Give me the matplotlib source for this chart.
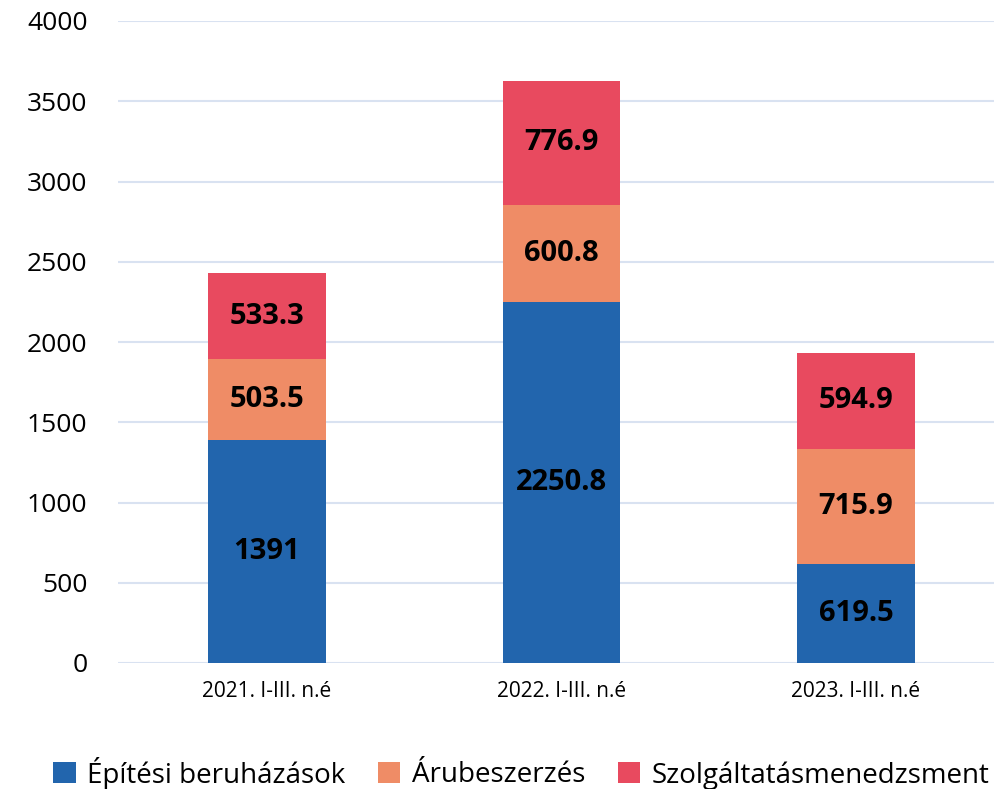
import matplotlib
matplotlib.use("Agg")
import matplotlib.pyplot as plt
import numpy as np

categories = ["2021. I-III. n.é", "2022. I-III. n.é", "2023. I-III. n.é"]
series_names = ["Építési beruházások", "Árubeszerzés", "Szolgáltatásmenedzsment"]
epitesi = [1391, 2250.8, 619.5]
arubeszerzes = [503.5, 600.8, 715.9]
szolgaltatas = [533.3, 776.9, 594.9]
value_labels = [["1391", "2250.8", "619.5"], ["503.5", "600.8", "715.9"], ["533.3", "776.9", "594.9"]]
y_ticks = [0, 500, 1000, 1500, 2000, 2500, 3000, 3500, 4000]

colors = ["#2265AD", "#EF8C66", "#E84A5F"]

plt.rcParams['font.family'] = ['Open Sans', 'DejaVu Sans']

fig = plt.figure(figsize=(9.95, 7.89), dpi=100)
ax = fig.add_axes([118/995, 1-663/789, (995-118)/995, (663-21)/789])

x = np.arange(len(categories))
bottom = np.zeros(len(categories))
for i, (vals, col, name) in enumerate(zip([epitesi, arubeszerzes, szolgaltatas], colors, series_names)):
    vals = np.array(vals, dtype=float)
    ax.bar(x, vals, width=0.4, bottom=bottom, color=col, label=name, zorder=3)
    for j in range(len(categories)):
        ax.text(x[j], bottom[j] + vals[j] / 2, value_labels[i][j], ha='center', va='center',
                fontsize=21, fontweight='bold', color='black', zorder=4)
    bottom += vals

ax.set_xlim(-0.506, 2.472)
ax.set_ylim(0, 4000)
ax.set_yticks(y_ticks)
ax.set_yticklabels([str(t) for t in y_ticks], fontsize=19)
ax.set_xticks(x)
ax.set_xticklabels(categories, fontsize=15)
ax.tick_params(axis='both', length=0)
ax.tick_params(axis='y', pad=22)
ax.tick_params(axis='x', pad=13)
for s in ax.spines.values():
    s.set_visible(False)
ax.yaxis.grid(True, color="#D9E2F1", linewidth=1.5, zorder=0)
ax.set_axisbelow(True)

leg = fig.legend(loc='center', bbox_to_anchor=(0.524, 1-773/789), ncol=3, frameon=False,
                 fontsize=20, handlelength=0.8, handleheight=0.8, handletextpad=0.4,
                 columnspacing=1.2)

fig.savefig("out.png", dpi=100)
